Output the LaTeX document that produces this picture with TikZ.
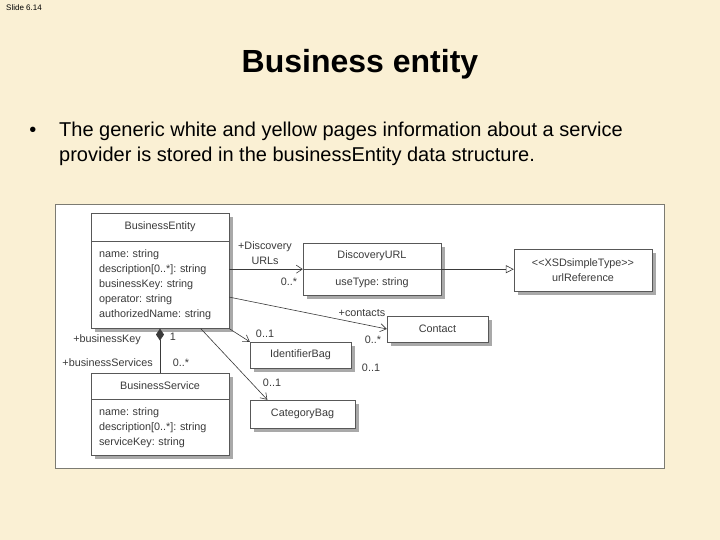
\documentclass[tikz,border=0pt]{standalone}
\usepackage{fontspec}
\setmainfont{Liberation Sans}
\usepackage{tikz}
\usetikzlibrary{arrows.meta,positioning,shadows}
\definecolor{cream}{HTML}{FAF0D4}
\definecolor{ink}{HTML}{3A3A3A}
\definecolor{frame}{HTML}{7C7B72}
\definecolor{shade}{HTML}{A9A9A9}
\frenchspacing
\tikzset{
  >={Straight Barb[length=6pt,width=8pt]},
  uml/.style={font=\fontsize{10.8}{15}\selectfont,text=ink},
  cls/.style={uml,draw=ink!85,fill=white,inner sep=0pt,
    drop shadow={shadow xshift=4pt,shadow yshift=-4pt,fill=shade,opacity=1}},
  attrs/.style={cls,align=left,text width=122pt,inner xsep=8pt,minimum width=138pt},
  mult/.style={uml,inner sep=1pt},
  assoc/.style={draw=ink,line width=0.6pt,->},
  realize/.style={draw=ink,line width=0.6pt,-{Triangle[open,length=8pt,width=8pt]}},
  compo/.style={draw=ink,line width=0.6pt,{Diamond[length=12pt,width=8pt,fill=ink]}-},
}
\begin{document}
\begin{tikzpicture}[x=1pt,y=-1pt]
  \fill[cream] (0,0) rectangle (720,540);
  \useasboundingbox (0,0) rectangle (720,540);
  \node[anchor=base west,inner sep=0pt,font=\fontsize{8}{9}\selectfont] (slideno) at (6,11) {Slide 6.14};
  \node[anchor=base,inner sep=0pt,font=\bfseries\fontsize{32}{36}\selectfont] (title) at (360,73) {Business entity};
  \node[anchor=base,inner sep=0pt,font=\fontsize{20}{25}\selectfont] (dot) at (33,137) {\textbullet};
  \node[anchor=base west,align=left,inner sep=0pt,font=\fontsize{20}{25}\selectfont] (intro) at (59,162)
    {The generic white and yellow pages information about a service\\provider is stored in the businessEntity data structure.};
  \draw[frame,fill=white] (55,204) rectangle (664,468);

  \node[cls,minimum width=138,minimum height=28] (beHead) at (160,227) {BusinessEntity};
  \node[attrs,minimum height=87,below=0pt of beHead] (beBody)
    {name: string\\description[0..*]: string\\businessKey: string\\operator: string\\authorizedName: string};
  \node[cls,minimum width=138,minimum height=26] (bsHead) at (160,386) {BusinessService};
  \node[attrs,minimum height=56,below=0pt of bsHead] (bsBody)
    {name: string\\description[0..*]: string\\serviceKey: string};
  \node[cls,minimum width=138,minimum height=26] (duHead) at (372,256) {DiscoveryURL};
  \node[cls,minimum width=138,minimum height=26,below=0pt of duHead] (duBody) {useType: string};
  \node[cls,minimum width=138,minimum height=42,align=center] (url) at (583,270) {<{}<XSDsimpleType>{}>\\urlReference};
  \node[cls,minimum width=101,minimum height=26] (contact) at (437.5,329) {Contact};
  \node[cls,minimum width=101,minimum height=26] (idBag) at (300.5,355) {IdentifierBag};
  \node[cls,minimum width=105,minimum height=28] (catBag) at (302.5,414) {CategoryBag};

  \draw[assoc] (beBody.east |- duHead.south) -- (duHead.south west);
  \draw[realize] (duBody.north east) -- (duBody.north east -| url.west);
  \draw[assoc] (beBody.-10) -- (contact.west);
  \draw[assoc] (beBody.south east) -- (idBag.north west);
  \draw[assoc] (beBody.-47) -- (catBag.158);
  \draw[compo] (beBody.south) -- (bsHead.north);

  \node[mult,align=center] (duRole) at (265,253) {+Discovery\\URLs};
  \foreach \name/\pos/\txt in {duMult/{289,282}/0..*, ctRole/{362,313}/+contacts, ctMult/{373,340}/0..*,
      idMult/{265,334}/0..1, catMult/{272,383}/0..1, freeMult/{371,368}/0..1,
      keyMult/{173,337}/1, svMult/{181,363}/0..*}
    \node[mult] (\name) at (\pos) {\txt};
  \node[mult,anchor=east] (keyRole) at (142,340) {+businessKey};
  \node[mult,anchor=east] (svRole) at (154,363) {+businessServices};
\end{tikzpicture}
\end{document}
